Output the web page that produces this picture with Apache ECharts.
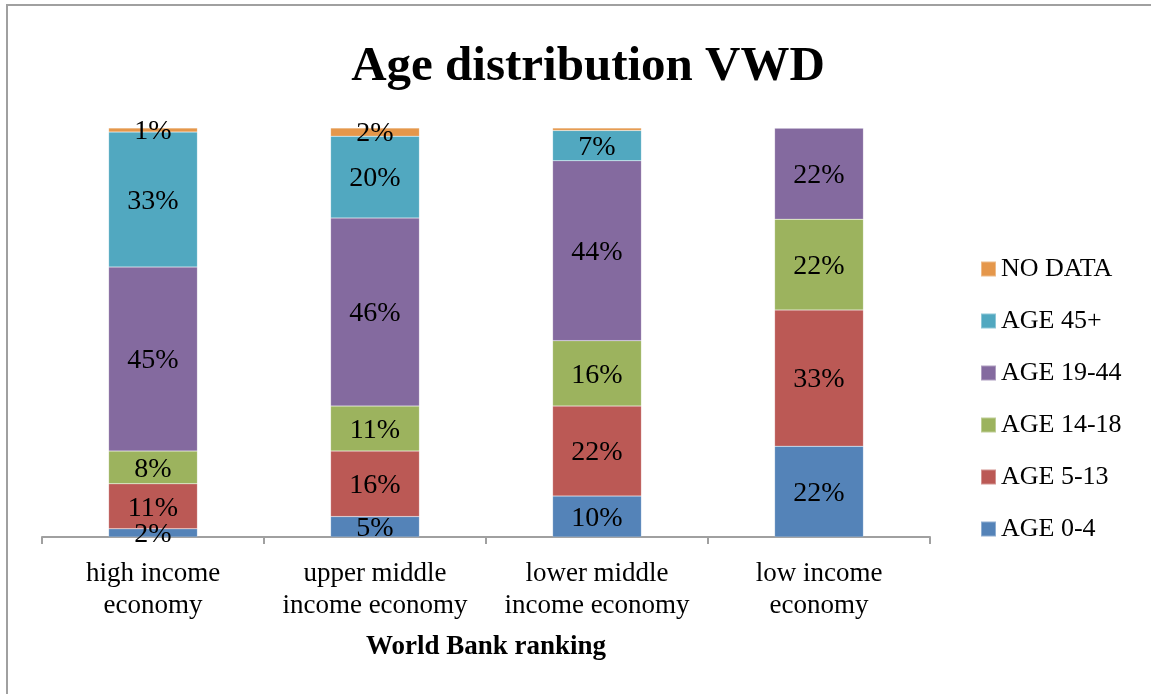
<!DOCTYPE html>
<html>
<head>
<meta charset="utf-8">
<title>Age distribution VWD</title>
<script src="https://cdn.jsdelivr.net/npm/echarts@6/dist/echarts.min.js"></script>
<style>
  html, body { margin: 0; padding: 0; background: #ffffff; }
  #chart { width: 1151px; height: 694px; }
</style>
</head>
<body>
<div id="chart"></div>
<script>
// World Bank income groups
const categories = ['high income\neconomy', 'upper middle\nincome economy', 'lower middle\nincome economy', 'low income\neconomy'];

// Share of cases per age group (percent of each income group)
const age0to4   = [2, 5, 10, 22.2];
const age5to13  = [11, 16, 22, 33.3];
const age14to18 = [8, 11, 16, 22.2];
const age19to44 = [45, 46, 44, 22.3];
const age45plus = [33, 20, 7.4, 0];
const noData    = [1, 2, 0.6, 0];

const seriesNames = ['AGE 0-4', 'AGE 5-13', 'AGE 14-18', 'AGE 19-44', 'AGE 45+', 'NO DATA'];
const seriesValues = [age0to4, age5to13, age14to18, age19to44, age45plus, noData];
const seriesColors = ['#5483B8', '#BB5955', '#9CB35E', '#846A9F', '#51A8C0', '#E5974B'];

const FONT = 'Liberation Serif';

const chart = echarts.init(document.getElementById('chart'), null, { renderer: 'canvas' });

const series = seriesNames.map((name, i) => ({
  name: name,
  type: 'bar',
  stack: 'share',
  barWidth: '40%',
  data: seriesValues[i],
  itemStyle: { color: seriesColors[i], borderColor: 'rgba(255,255,255,0.35)', borderWidth: 0.5 },
  label: {
    show: true,
    position: 'inside',
    offset: [0, 2],
    fontFamily: FONT,
    fontSize: 28,
    color: '#000000',
    formatter: p => (p.value >= 1 ? Math.round(p.value) + '%' : '')
  },
  emphasis: { disabled: true }
}));

chart.setOption({
  animation: false,
  backgroundColor: '#ffffff',
  title: {
    text: 'Age distribution VWD',
    left: 583,
    textAlign: 'center',
    top: 38,
    textStyle: { fontFamily: FONT, fontWeight: 'bold', fontSize: 49, color: '#000000' }
  },
  graphic: [{
    type: 'rect',
    shape: { x: 7, y: 5, width: 1300, height: 900 },
    style: { fill: 'none', stroke: '#a0a0a0', lineWidth: 2 },
    silent: true
  }],
  legend: {
    orient: 'vertical',
    left: 975,
    top: 251,
    itemWidth: 15,
    itemHeight: 15,
    itemGap: 26,
    icon: 'rect',
    data: seriesNames.slice().reverse(),
    textStyle: { fontFamily: FONT, fontSize: 26, color: '#000000', lineHeight: 26 }
  },
  grid: { left: 42, right: 221, top: 128, bottom: 157, containLabel: false },
  xAxis: {
    type: 'category',
    data: categories,
    name: 'World Bank ranking',
    nameLocation: 'middle',
    nameGap: 97,
    nameTextStyle: { fontFamily: FONT, fontWeight: 'bold', fontSize: 27, color: '#000000' },
    axisLine: { lineStyle: { color: '#a0a0a0', width: 2 } },
    axisTick: { show: true, length: 7, alignWithLabel: false, lineStyle: { color: '#a0a0a0', width: 2 } },
    axisLabel: { fontFamily: FONT, fontSize: 27, lineHeight: 32, color: '#000000', margin: 21, interval: 0 }
  },
  yAxis: {
    type: 'value',
    min: 0,
    max: 100,
    show: false
  },
  series: series
});
</script>
</body>
</html>
